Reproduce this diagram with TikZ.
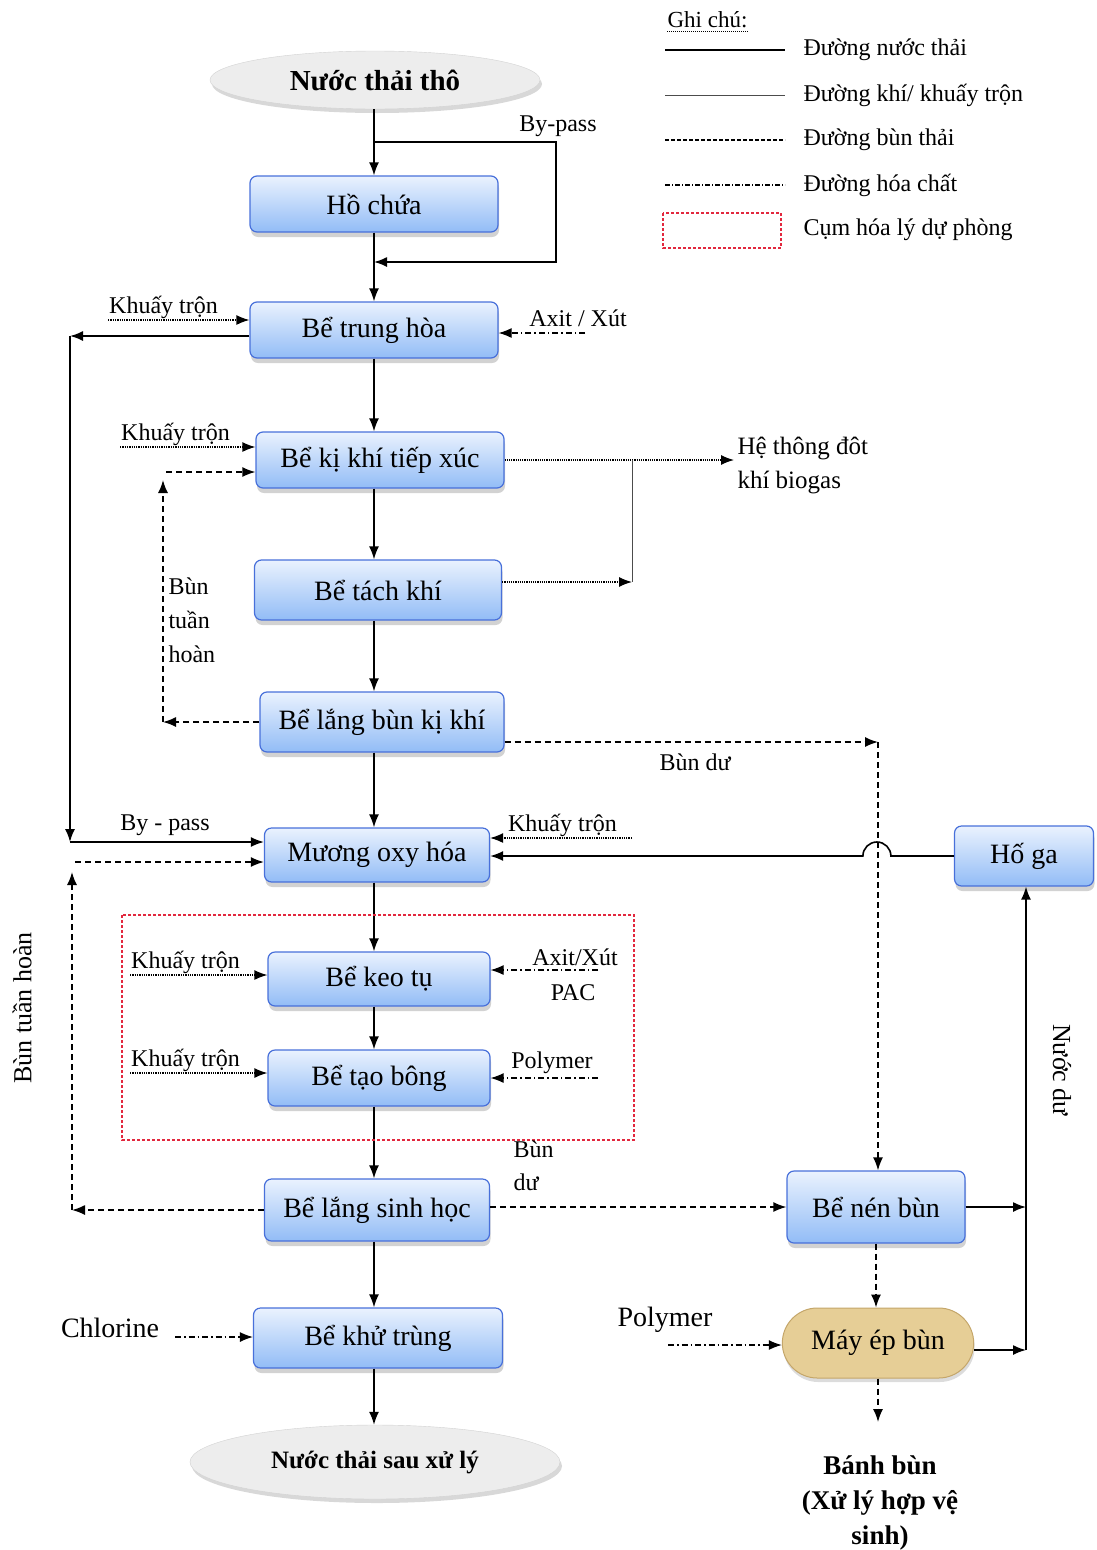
\documentclass[tikz,border=0pt]{standalone}
\usepackage{fontspec}
\setmainfont{Liberation Serif}
\usetikzlibrary{arrows.meta,shapes.geometric,shapes.misc,shadows}
\definecolor{tanktop}{RGB}{234,242,254}
\definecolor{tankbot}{RGB}{146,188,246}
\definecolor{tankedge}{RGB}{72,112,218}
\definecolor{pressfill}{RGB}{230,206,150}
\definecolor{pressedge}{RGB}{196,166,106}
\definecolor{frameRed}{RGB}{226,40,62}
\begin{document}
\begin{tikzpicture}[x=1pt, y=-1pt, >={Latex[length=13pt,width=10pt]},
    every node/.style={font=\fontsize{24}{28}\selectfont},
    tank/.style={draw=tankedge, line width=1.2pt, rounded corners=7pt,
        top color=tanktop, bottom color=tankbot, minimum height=56,
        drop shadow={shadow xshift=1pt, shadow yshift=-5pt, fill=gray!70},
        font=\fontsize{28}{32}\selectfont},
    cloud/.style={ellipse, fill=gray!14, draw=gray!35,
        drop shadow={shadow xshift=2pt, shadow yshift=-4pt, fill=gray!60},
        font=\bfseries\fontsize{29}{32}\selectfont},
    press/.style={rounded rectangle, fill=pressfill, draw=pressedge, line width=1pt,
        drop shadow={shadow xshift=1pt, shadow yshift=-4pt, fill=gray!55},
        font=\fontsize{28}{32}\selectfont},
    wline/.style={line width=1.6pt, ->},
    gasline/.style={line width=1.2pt, densely dotted, ->},
    mixline/.style={line width=1.3pt, densely dotted, ->},
    sludge/.style={line width=1.5pt, dash pattern=on 6pt off 4pt, ->},
    chem/.style={line width=1.2pt, dash pattern=on 6pt off 3pt on 1.5pt off 3pt, ->},
    lbl/.style={inner sep=1pt}]
    \useasboundingbox (0,0) rectangle (1096,1550);

    % Legend
    \node[anchor=west, font=\fontsize{23}{26}\selectfont] (ghichu) at (664,20) {Ghi chú:};
    \draw[densely dotted, line width=1pt] ([xshift=3pt]ghichu.south west) -- ([xshift=-3pt]ghichu.south east);
    \draw[line width=1.6pt] (665,50) -- (785,50);
    \draw[line width=1pt, gray!60!black] (665,95) -- (785,95);
    \draw[line width=1.3pt, dash pattern=on 4pt off 2pt] (665,140) -- (785,140);
    \draw[line width=1.3pt, dash pattern=on 5pt off 2pt on 1pt off 2pt] (665,185) -- (785,185);
    \draw[frameRed, line width=1.3pt, densely dashed] (663,213) rectangle (781,248);
    \node[anchor=west] (leg1) at (800,50) {Đường nước thải};
    \node[anchor=west] (leg2) at (800,95) {Đường khí/ khuấy trộn};
    \node[anchor=west] (leg3) at (800,140) {Đường bùn thải};
    \node[anchor=west] (leg4) at (800,185) {Đường hóa chất};
    \node[anchor=west] (leg5) at (800,230) {Cụm hóa lý dự phòng};

    % Main treatment line
    \coordinate (col) at (374,0);
    \node[cloud, minimum width=330, minimum height=58] (raw) at (375,80) {Nước thải thô};
    \node[tank, minimum width=248] (ho) at (374,204) {Hồ chứa};
    \node[tank, minimum width=248] (trung) at (374,330) {Bể trung hòa};
    \node[tank, minimum width=248] (kiki) at (380,460) {Bể kị khí tiếp xúc};
    \node[tank, minimum width=247, minimum height=60] (tach) at (378,590) {Bể tách khí};
    \node[tank, minimum width=244, minimum height=60] (langkk) at (382,722) {Bể lắng bùn kị khí};
    \node[tank, minimum width=225, minimum height=54] (mox) at (377,855) {Mương oxy hóa};
    \node[tank, minimum width=222, minimum height=54] (keo) at (379,979) {Bể keo tụ};
    \node[tank, minimum width=222, minimum height=56] (bong) at (379,1078) {Bể tạo bông};
    \node[tank, minimum width=225, minimum height=62] (langsh) at (377,1210) {Bể lắng sinh học};
    \node[tank, minimum width=249, minimum height=60] (khu) at (378,1338) {Bể khử trùng};
    \node[cloud, minimum width=370, minimum height=74, font=\bfseries\fontsize{25}{28}\selectfont] (out) at (375,1462) {Nước thải sau xử lý};

    % Sludge line
    \node[tank, minimum width=139, minimum height=60] (hoga) at (1024,856) {Hố ga};
    \node[tank, minimum width=178, minimum height=72] (nen) at (876,1207) {Bể nén bùn};
    \node[press, minimum width=198, minimum height=70] (ep) at (878,1343) {Máy ép bùn};
    \node[align=center, font=\bfseries\fontsize{27}{35}\selectfont] (banh) at (880,1503) {Bánh bùn\\(Xử lý hợp vệ\\sinh)};

    % Water flow down the column
    \draw[wline] (col |- raw.south) -- (col |- ho.north);
    \draw[wline] (col |- ho.south) -- (col |- trung.north);
    \draw[wline] (col |- trung.south) -- (col |- kiki.north);
    \draw[wline] (col |- kiki.south) -- (col |- tach.north);
    \draw[wline] (col |- tach.south) -- (col |- langkk.north);
    \draw[wline] (col |- langkk.south) -- (col |- mox.north);
    \draw[wline] (col |- mox.south) -- (col |- keo.north);
    \draw[wline] (col |- bong.south) -- (col |- langsh.north);
    \draw[wline] (col |- langsh.south) -- (col |- khu.north);
    \draw[wline] (col |- khu.south) -- (col |- out.north);

    % By-pass round the holding tank
    \coordinate (bpA) at (374,142);
    \coordinate (bpB) at (556,262);
    \draw[wline] (bpA) -| (bpB) -- (col |- bpB);
    \node (bptxt) at (558,126) {By-pass};

    % By-pass from the neutralising tank to the oxidation ditch
    \coordinate (bpL) at (70,336);
    \coordinate (bpM) at (70,842);
    \draw[wline] (trung.west |- bpL) -- (bpL);
    \draw[wline] (bpL) -- (bpM);
    \draw[wline] (bpM) -- (mox.west |- bpM);
    \node (bp2txt) at (165,825) {By - pass};

    % Mixing inputs
    \coordinate (kt1) at (108,320);
    \coordinate (kt2) at (120,447);
    \coordinate (kt3) at (632,838);
    \coordinate (kt4) at (130,975);
    \coordinate (kt5) at (130,1073);
    \draw[mixline] (kt1) -- (trung.west |- kt1);
    \draw[mixline] (kt2) -- (kiki.west |- kt2);
    \draw[mixline] (kt3) -- (mox.east |- kt3);
    \draw[mixline] (kt4) -- (keo.west |- kt4);
    \draw[mixline] (kt5) -- (bong.west |- kt5);
    \node[lbl, above right] (kt1txt) at (kt1) {Khuấy trộn};
    \node[lbl, above right] (kt2txt) at (kt2) {Khuấy trộn};
    \node[lbl, above left] (kt3txt) at ([xshift=-14pt]kt3) {Khuấy trộn};
    \node[lbl, above right] (kt4txt) at (kt4) {Khuấy trộn};
    \node[lbl, above right] (kt5txt) at (kt5) {Khuấy trộn};

    % Chemical inputs
    \coordinate (ax1) at (585,333);
    \coordinate (ax2) at (598,970);
    \coordinate (po1) at (598,1078);
    \coordinate (po2) at (668,1345);
    \coordinate (cl) at (175,1337);
    \draw[chem] (ax1) -- (trung.east |- ax1);
    \draw[chem] (ax2) -- (keo.east |- ax2);
    \draw[chem] (po1) -- (bong.east |- po1);
    \draw[chem] (po2) -- (ep.west |- po2);
    \draw[chem] (cl) -- (khu.west |- cl);
    \node (ax1txt) at (578,318) {Axit / Xút};
    \node (ax2txt) at (575,957) {Axit/Xút};
    \node (pactxt) at (573,993) {PAC};
    \node (po1txt) at (552,1063) {Polymer};
    \node[font=\fontsize{28}{32}\selectfont] (po2txt) at (665,1320) {Polymer};
    \node[font=\fontsize{28}{32}\selectfont] (cltxt) at (110,1328) {Chlorine};

    % Biogas
    \node[anchor=west, align=left, font=\fontsize{25}{34}\selectfont] (gas) at (734,465) {Hệ thông đôt\\khí biogas};
    \coordinate (gj) at (632,582);
    \draw[gasline] (kiki.east) -- (gas.west |- kiki.east);
    \draw[line width=1pt, gray!60!black] (gj |- kiki.east) -- (gj);
    \draw[gasline] (tach.east |- gj) -- (gj);

    % Anaerobic sludge recirculation
    \coordinate (rc1) at (163,722);
    \coordinate (rc2) at (163,480);
    \coordinate (rc3) at (166,472);
    \draw[sludge] (langkk.west |- rc1) -- (rc1);
    \draw[sludge] (rc1) -- (rc2);
    \draw[sludge] (rc3) -- (kiki.west |- rc3);
    \node[anchor=west, align=left, font=\fontsize{24}{34}\selectfont] (rc1txt) at (165,620) {Bùn\\tuần\\hoàn};

    % Excess sludge to thickener
    \coordinate (bd1) at (878,742);
    \draw[sludge] (langkk.east |- bd1) -- (bd1);
    \draw[sludge] (bd1) -- (bd1 |- nen.north);
    \node (bd1txt) at (695,762) {Bùn dư};

    % Return from sump, hopping over the sludge line
    \draw[wline] (hoga.west) -- ++(-63,0) arc[start angle=0, end angle=-180, radius=14] -- (mox.east |- hoga.west);

    % Biological sludge recirculation
    \coordinate (rc4) at (72,1210);
    \coordinate (rc5) at (72,872);
    \coordinate (rc6) at (75,862);
    \draw[sludge] (langsh.west |- rc4) -- (rc4);
    \draw[sludge] (rc4) -- (rc5);
    \draw[sludge] (rc6) -- (mox.west |- rc6);
    \node[rotate=90, font=\fontsize{26}{30}\selectfont] (rc2txt) at (22,1008) {Bùn tuần hoàn};

    % Standby physico-chemical group
    \draw[frameRed, line width=1.2pt, densely dashed] (122,915) rectangle (634,1140);
    \draw[wline] (col |- keo.south) -- (col |- bong.north);

    % Excess biological sludge
    \draw[sludge] (langsh.east |- nen.west) -- (nen.west);
    \node[anchor=west, align=left, font=\fontsize{24}{33}\selectfont] (bd2txt) at (510,1166) {Bùn\\dư};

    % Thickener and press
    \coordinate (nd1) at (1026,1207);
    \coordinate (nd2) at (1026,1350);
    \coordinate (bb) at (878,1422);
    \draw[wline] (nen.east) -- (nen.east -| nd1);
    \draw[wline] (ep.east |- nd2) -- (nd2);
    \draw[wline] (nd2) -- (nd2 |- hoga.south);
    \draw[sludge] (nen.south) -- (nen.south |- ep.north);
    \draw[sludge] (ep.south) -- (bb);
    \node[rotate=-90, font=\fontsize{26}{30}\selectfont] (ndtxt) at (1062,1070) {Nước dư};
\end{tikzpicture}
\end{document}
